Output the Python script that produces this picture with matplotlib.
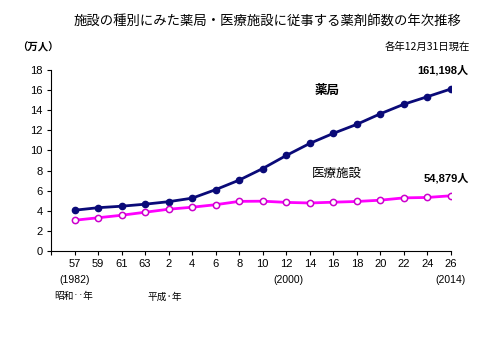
import matplotlib
matplotlib.use('Agg')
import matplotlib.pyplot as plt

plt.rcParams['font.family'] = ['Noto Sans CJK JP', 'DejaVu Sans']

# year labels (Showa 57 .. Heisei 26)
years = ['57', '59', '61', '63', '2', '4', '6', '8', '10', '12', '14', '16', '18', '20', '22', '24', '26']
# pharmacists (10,000 persons)
pharmacy = [4.05, 4.3, 4.45, 4.65, 4.9, 5.25, 6.1, 7.05, 8.2, 9.5, 10.7, 11.7, 12.6, 13.65, 14.6, 15.35, 16.12]
hospital = [3.05, 3.3, 3.55, 3.85, 4.15, 4.35, 4.6, 4.93, 4.95, 4.83, 4.77, 4.85, 4.92, 5.05, 5.28, 5.32, 5.49]

x = list(range(1, len(years) + 1))
num_font = ['Liberation Sans', 'Noto Sans CJK JP']

fig = plt.figure(figsize=(5, 3.4), dpi=100)
ax = fig.add_axes([0.102, 0.262, 0.8, 0.532])

ax.plot(x, pharmacy, color='#0a0a78', lw=2, marker='o', ms=4.5,
        markerfacecolor='#0a0a78', markeredgecolor='#0a0a78')
ax.plot(x, hospital, color='#ff00ff', lw=2, marker='o', ms=4.5,
        markerfacecolor='white', markeredgecolor='#cc00cc', markeredgewidth=1.1)

ax.set_xlim(0, 17)
ax.set_ylim(0, 18)
ax.set_yticks(range(0, 19, 2))
ax.set_xticks(range(0, 18))
ax.set_xticklabels([''] + years)
ax.tick_params(axis='both', labelsize=8, length=3, width=0.8, pad=3)
for lab in ax.get_xticklabels() + ax.get_yticklabels():
    lab.set_family(num_font)
for s in ['top', 'right']:
    ax.spines[s].set_visible(False)

# series labels
ax.text(16.66, 18.0, '161,198人', fontsize=8, fontweight='bold', family=num_font,
        ha='center', va='center', clip_on=False)
ax.text(16.8, 7.2, '54,879人', fontsize=8, fontweight='bold', family=num_font,
        ha='center', va='center')
ax.text(11.73, 16.0, '薬局', fontsize=9, fontweight='bold', ha='center', va='center')
ax.text(12.15, 7.75, '医療施設', fontsize=9, ha='center', va='center')

# titles and notes
fig.text(0.534, 0.94, '施設の種別にみた薬局・医療施設に従事する薬剤師数の年次推移',
         fontsize=9.6, ha='center', va='center')
fig.text(0.075, 0.862, '（万人）', fontsize=7.5, fontweight='bold', ha='center', va='center')
fig.text(0.94, 0.862, '各年12月31日現在', fontsize=7.5, ha='right', va='center')

fig.text(0.15, 0.176, '(1982)', fontsize=7.5, family=num_font, ha='center', va='center')
fig.text(0.576, 0.176, '(2000)', fontsize=7.5, family=num_font, ha='center', va='center')
fig.text(0.9, 0.176, '(2014)', fontsize=7.5, family=num_font, ha='center', va='center')
fig.text(0.108, 0.128, '昭和‥年', fontsize=7, ha='left', va='center')
fig.text(0.294, 0.128, '平成·年', fontsize=7, ha='left', va='center')

fig.savefig('out.png', dpi=100, facecolor='white')
